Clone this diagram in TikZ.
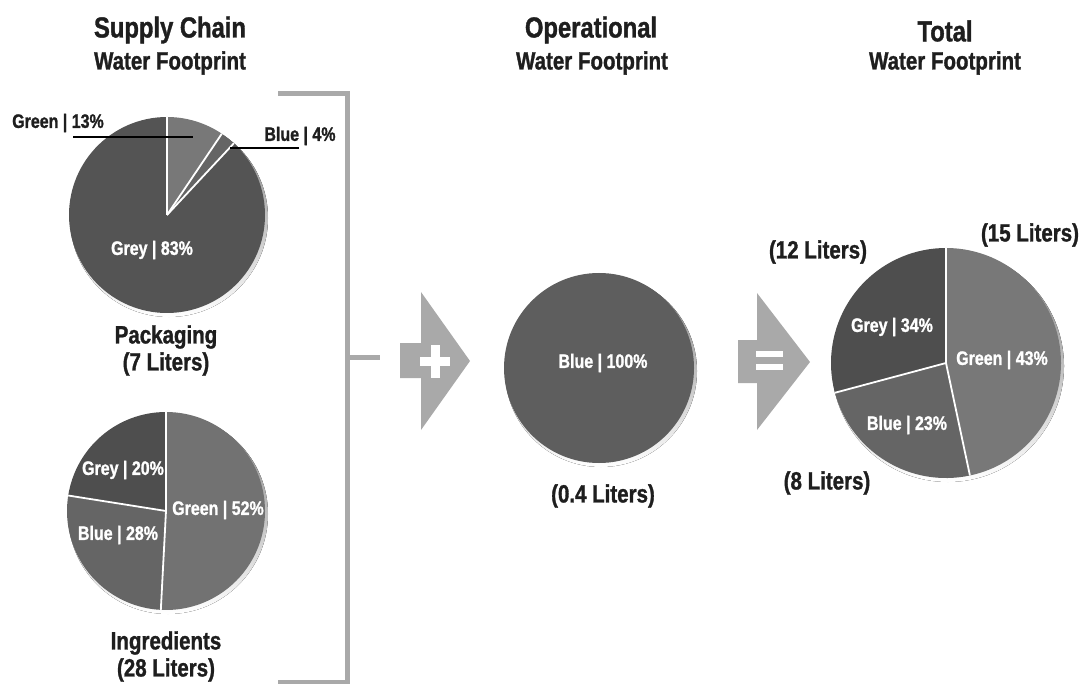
\documentclass[tikz,border=0pt]{standalone}
\usepackage{fontspec}
\newfontfamily\cf{Liberation Sans}[FakeStretch=0.82, FakeBold=1.2]
\definecolor{txt}{HTML}{1E1E1E}
\definecolor{gslice}{HTML}{787878}
\definecolor{bslice}{HTML}{656565}
\definecolor{rslice}{HTML}{4E4E4E}
\definecolor{pslice}{HTML}{545454}
\definecolor{oslice}{HTML}{5E5E5E}
\definecolor{light}{HTML}{A9A9A9}
\definecolor{shade}{HTML}{E8E8E8}
\tikzset{
  ttl/.style={font=\cf\bfseries\fontsize{29}{29}\selectfont, text=txt, inner sep=0pt},
  sub/.style={font=\cf\bfseries\fontsize{25}{25}\selectfont, text=txt, inner sep=0pt},
  lbl/.style={font=\cf\bfseries\fontsize{19.5}{19.5}\selectfont, text=txt, inner sep=0pt},
  wlbl/.style={font=\cf\bfseries\fontsize{19.5}{19.5}\selectfont, text=white, inner sep=0pt},
  sep/.style={draw=white, line width=1.8pt},
  lead/.style={draw=black, line width=1.3pt},
  brk/.style={draw=light, line width=5pt},
  sign/.style={fill=light}
}
\begin{document}
\begin{tikzpicture}[x=1pt,y=-1pt]
\useasboundingbox (0,0) rectangle (1083,684);

% ---------- titles
\node[ttl] (t1) at (170,30) {Supply Chain};
\node[sub] (t1b) at (170,63) {Water Footprint};
\node[ttl] (t2) at (591,30) {Operational};
\node[sub] (t2b) at (592,63) {Water Footprint};
\node[ttl] (t3) at (945,31) {Total};
\node[sub] (t3b) at (945,63) {Water Footprint};

% ---------- packaging pie
\coordinate (pc) at (167,215);
\fill[shade] (169,218) circle[radius=99];
\fill[gslice] (pc) -- ++(-90:98) arc[start angle=-90, end angle=-56, radius=98] -- cycle;
\fill[bslice] (pc) -- ++(-56:98) arc[start angle=-56, end angle=-47, radius=98] -- cycle;
\fill[pslice] (pc) -- ++(-47:98) arc[start angle=-47, end angle=270, radius=98] -- cycle;
\draw[sep] (pc) -- ++(-90:98);
\draw[sep] (pc) -- ++(-56:98);
\draw[sep] (pc) -- ++(-47:98);
\node[lbl] (pg) at (58,123) {Green | 13\%};
\node[lbl] (pb) at (300,136) {Blue | 4\%};
\node[wlbl] (pr) at (152,250) {Grey | 83\%};
\coordinate (pga) at (73,137);
\coordinate (pgb) at (193,137);
\coordinate (pba) at (299,148);
\coordinate (pbb) at (230,148);
\draw[lead] (pga) -- (pgb);
\draw[lead] (pba) -- (pbb);
\node[sub] (pk) at (166,337) {Packaging};
\node[sub] (pkl) at (166,364) {(7 Liters)};

% ---------- ingredients pie
\coordinate (ic) at (166,511);
\fill[shade] (168,514) circle[radius=100];
\fill[gslice!95!black] (ic) -- ++(-90:99) arc[start angle=-90, end angle=93, radius=99] -- cycle;
\fill[bslice] (ic) -- ++(93:99) arc[start angle=93, end angle=189, radius=99] -- cycle;
\fill[rslice] (ic) -- ++(189:99) arc[start angle=189, end angle=270, radius=99] -- cycle;
\draw[sep] (ic) -- ++(-90:99);
\draw[sep] (ic) -- ++(93:99);
\draw[sep] (ic) -- ++(189:99);
\node[wlbl] (ir) at (123,470) {Grey | 20\%};
\node[wlbl] (ib) at (118,535) {Blue | 28\%};
\node[wlbl] (ig) at (218,510) {Green | 52\%};
\node[sub] (in) at (166,643) {Ingredients};
\node[sub] (inl) at (166,670) {(28 Liters)};

% ---------- bracket
\coordinate (b1) at (278,94);
\coordinate (b2) at (347,94);
\coordinate (b3) at (347,682);
\coordinate (b4) at (278,682);
\coordinate (bm) at (347,357);
\coordinate (bt) at (380,357);
\draw[brk] (b1) -- (b2) -- (b3) -- (b4);
\draw[brk] (bm) -- (bt);

% ---------- plus arrow
\fill[sign] (400,343) -- (421,343) -- (421,292) -- (470,361) -- (421,430) -- (421,378) -- (400,378) -- cycle;
\fill[white] (420,357) rectangle (450,366);
\fill[white] (430.5,345) rectangle (439.5,378);

% ---------- operational circle
\coordinate (oc) at (599,368);
\fill[shade] (601,371) circle[radius=96];
\fill[oslice] (oc) circle[radius=95];
\node[wlbl] (ob) at (603,363) {Blue | 100\%};
\node[sub] (ol) at (603,496) {(0.4 Liters)};

% ---------- equals arrow
\fill[sign] (738,340) -- (757,340) -- (757,293) -- (810,362) -- (757,430) -- (757,383) -- (738,383) -- cycle;
\fill[white] (756,351) rectangle (783,357);
\fill[white] (756,364) rectangle (783,370);

% ---------- total pie
\coordinate (tc) at (946,363);
\fill[shade] (948,366) circle[radius=116];
\fill[gslice] (tc) -- ++(-90:115) arc[start angle=-90, end angle=78, radius=115] -- cycle;
\fill[bslice] (tc) -- ++(78:115) arc[start angle=78, end angle=165, radius=115] -- cycle;
\fill[rslice] (tc) -- ++(165:115) arc[start angle=165, end angle=270, radius=115] -- cycle;
\draw[sep] (tc) -- ++(-90:115);
\draw[sep] (tc) -- ++(78:115);
\draw[sep] (tc) -- ++(165:115);
\node[wlbl] (tr) at (892,327) {Grey | 34\%};
\node[wlbl] (tg) at (1002,360) {Green | 43\%};
\node[wlbl] (tb) at (907,425) {Blue | 23\%};
\node[sub] (t12) at (818,252) {(12 Liters)};
\node[sub] (t15) at (1030,235) {(15 Liters)};
\node[sub] (t8) at (827,483) {(8 Liters)};
\end{tikzpicture}
\end{document}
